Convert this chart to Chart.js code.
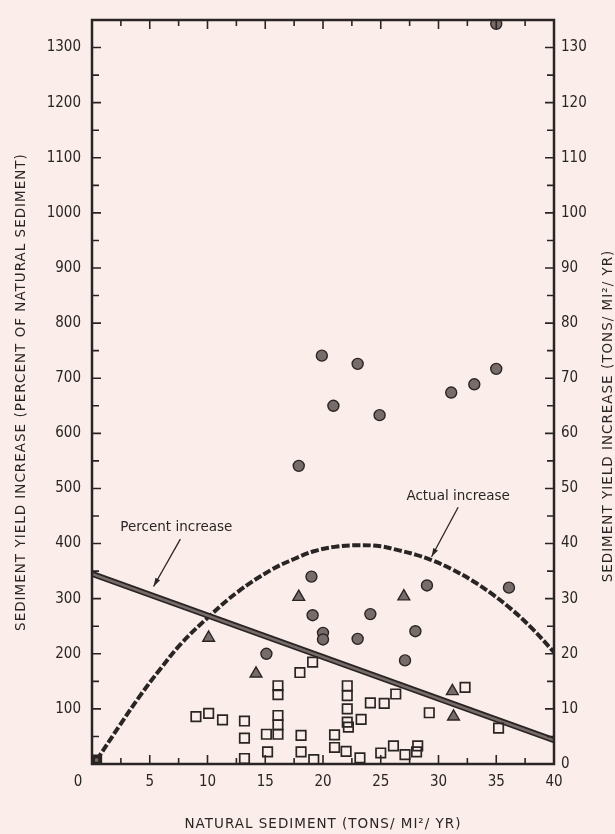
<!DOCTYPE html>
<html>
<head>
<meta charset="utf-8">
<script src="https://cdn.jsdelivr.net/npm/chart.js@4.4.0/dist/chart.umd.min.js"></script>
<style>
  html, body { margin: 0; padding: 0; background: #fbeeea; }
</style>
</head>
<body>
<canvas id="grafico" width="615" height="834"></canvas>
<script>
// filled circles (percent increase)
const circleX = [19.9, 23.0, 20.9, 24.9, 17.9, 31.1, 33.1, 35.0, 35.0,
  19.0, 29.0, 36.1, 19.1, 24.1, 20.0, 20.0, 23.0, 28.0, 27.1, 15.1];
const circleY = [741, 726, 650, 633, 541, 674, 689, 717, 1343,
  340, 324, 320, 270, 272, 238, 226, 227, 241, 188, 200];

// filled triangles
const triX = [17.9, 27.0, 10.1, 14.2, 31.2, 31.3];
const triY = [303, 304, 229, 164, 132, 86];

// open squares
const squareX = [9.0, 10.1, 11.3, 13.2, 13.2, 13.2, 15.1, 15.2, 16.1, 16.1, 16.1, 16.1, 16.1,
  18.0, 19.1, 18.1, 18.1, 19.2, 21.0, 21.0, 22.1, 22.1, 22.1, 22.1, 22.2, 23.3, 22.0, 23.2,
  24.1, 25.3, 26.3, 25.0, 26.1, 27.1, 28.2, 28.1, 29.2, 32.3, 35.2];
const squareY = [86, 92, 80, 78, 47, 10, 54, 22, 142, 126, 88, 71, 54,
  166, 185, 52, 22, 8, 53, 30, 142, 124, 100, 76, 67, 81, 23, 11,
  111, 110, 127, 20, 33, 17, 33, 22, 93, 139, 65];

// percent increase line (left axis)
const percentX = [0, 40];
const percentY = [345, 43];

// actual increase curve (right axis, tons/mi2/yr)
const actualX = [0.4, 2.4, 4.2, 5.9, 7.7, 10.1, 12.6, 15.5, 17.5, 19.2, 21, 23, 25, 26.5,
  28, 29.4, 31.1, 32.9, 34.6, 36.3, 38.1, 40];
const actualY = [0.7, 7.0, 12.5, 17.2, 21.8, 26.7, 31.2, 35.2, 37.2, 38.6, 39.4, 39.7, 39.5, 38.8,
  38.0, 37.0, 35.4, 33.3, 30.9, 28.1, 24.6, 20.3];

const xTicks = [0, 5, 10, 15, 20, 25, 30, 35, 40];
const leftTicks = [100, 200, 300, 400, 500, 600, 700, 800, 900, 1000, 1100, 1200, 1300];
const rightTicks = [0, 10, 20, 30, 40, 50, 60, 70, 80, 90, 100, 110, 120, 130];

const xTitle = 'NATURAL SEDIMENT (TONS/ MI\u00B2/ YR)';
const leftTitle = 'SEDIMENT YIELD INCREASE (PERCENT OF NATURAL SEDIMENT)';
const rightTitle = 'SEDIMENT YIELD INCREASE (TONS/ MI\u00B2/ YR)';

const toPoints = (xs, ys) => xs.map((x, i) => ({ x: x, y: ys[i] }));

const fundo = '#fbeeea';
const tinta = '#2a2525';
const cinza = '#786c6b';
const fonteNum = "'Liberation Sans Narrow', 'DejaVu Sans Condensed', 'Roboto Condensed', Roboto, sans-serif";
const fonteTxt = "'DejaVu Sans', 'Open Sans', sans-serif";

// arrows and labels, in data coords of x / left axis
const notas = [
  { text: 'Percent increase', tx: 7.3, ty: 429, from: [7.65, 408], to: [5.33, 322] },
  { text: 'Actual increase', tx: 31.7, ty: 486, from: [31.7, 466], to: [29.4, 376] }
];

const moldura = {
  id: 'moldura',
  beforeDraw(chart) {
    const c = chart.ctx;
    c.save();
    c.fillStyle = fundo;
    c.fillRect(0, 0, chart.width, chart.height);
    c.restore();
  },
  afterDraw(chart) {
    const c = chart.ctx;
    const a = chart.chartArea;
    const xs = chart.scales.x;
    const ys = chart.scales.y;
    c.save();
    c.strokeStyle = tinta;
    c.lineWidth = 2.5;
    c.strokeRect(a.left, a.top, a.right - a.left, a.bottom - a.top);

    // inward ticks
    c.lineWidth = 1.6;
    c.beginPath();
    for (let v = 50; v <= 1300; v += 50) {
      const y = ys.getPixelForValue(v);
      const len = v % 100 === 0 ? 9 : 7;
      c.moveTo(a.left, y); c.lineTo(a.left + len, y);
      c.moveTo(a.right, y); c.lineTo(a.right - len, y);
    }
    for (let v = 2.5; v < 40; v += 2.5) {
      const x = xs.getPixelForValue(v);
      const len = v % 5 === 0 ? 9 : 6;
      c.moveTo(x, a.bottom); c.lineTo(x, a.bottom - len);
      c.moveTo(x, a.top); c.lineTo(x, a.top + len);
    }
    c.stroke();

    // "0" of x axis sits left of the corner
    c.fillStyle = tinta;
    c.font = '15px ' + fonteNum;
    c.textAlign = 'center';
    c.textBaseline = 'middle';
    c.fillText('0', xs.getPixelForValue(0) - 14, a.bottom + 18);

    // annotations
    c.font = '13.5px ' + fonteTxt;
    c.lineWidth = 1.3;
    notas.forEach(n => {
      const tx = xs.getPixelForValue(n.tx), ty = ys.getPixelForValue(n.ty);
      c.fillText(n.text, tx, ty);
      const x1 = xs.getPixelForValue(n.from[0]), y1 = ys.getPixelForValue(n.from[1]);
      const x2 = xs.getPixelForValue(n.to[0]), y2 = ys.getPixelForValue(n.to[1]);
      c.beginPath(); c.moveTo(x1, y1); c.lineTo(x2, y2); c.stroke();
      const ang = Math.atan2(y2 - y1, x2 - x1);
      c.beginPath();
      c.moveTo(x2, y2);
      c.lineTo(x2 - 9 * Math.cos(ang - 0.3), y2 - 9 * Math.sin(ang - 0.3));
      c.lineTo(x2 - 9 * Math.cos(ang + 0.3), y2 - 9 * Math.sin(ang + 0.3));
      c.closePath();
      c.fill();
    });

    // axis titles, spaced like the original lettering
    c.font = '13.5px ' + fonteTxt;
    c.letterSpacing = '1px';
    c.fillText(xTitle, (a.left + a.right) / 2, 824);

    c.save();
    c.translate(21, (a.top + a.bottom) / 2);
    c.rotate(-Math.PI / 2);
    c.fillText(leftTitle, 0, 0);
    c.restore();

    // right title reads bottom to top too
    c.translate(608, (a.top + a.bottom) / 2 + 24);
    c.rotate(-Math.PI / 2);
    c.fillText(rightTitle, 0, 0);
    c.restore();
  }
};

const ctx = document.getElementById('grafico').getContext('2d');

new Chart(ctx, {
  type: 'scatter',
  data: {
    datasets: [
      {
        data: toPoints(circleX, circleY),
        pointStyle: 'circle', pointRadius: 5.5,
        backgroundColor: cinza, borderColor: tinta, borderWidth: 1.4
      },
      {
        data: toPoints(triX, triY),
        pointStyle: 'triangle', pointRadius: 6.8,
        backgroundColor: cinza, borderColor: tinta, borderWidth: 1.4
      },
      {
        data: toPoints(squareX, squareY),
        pointStyle: 'rect', pointRadius: 6.7,
        backgroundColor: 'rgba(0,0,0,0)', borderColor: tinta, borderWidth: 1.7
      },
      {
        data: toPoints(percentX, percentY),
        showLine: true, pointRadius: 0,
        borderColor: cinza, borderWidth: 2.5
      },
      {
        data: toPoints(percentX, percentY),
        showLine: true, pointRadius: 0,
        borderColor: tinta, borderWidth: 6
      },
      {
        data: toPoints(actualX, actualY),
        yAxisID: 'y2',
        showLine: true,
        tension: 0.4,
        pointRadius: actualX.map((x, i) => i === 0 ? 5 : 0),
        pointStyle: 'rect',
        backgroundColor: cinza,
        borderColor: tinta, borderWidth: 4, borderDash: [8, 2.5]
      }
    ]
  },
  options: {
    responsive: false,
    animation: false,
    layout: { padding: { top: 13, left: 0, right: 0, bottom: 0 } },
    plugins: {
      legend: { display: false },
      tooltip: { enabled: false }
    },
    scales: {
      x: {
        type: 'linear', min: 0, max: 40,
        afterFit: s => { s.height = 70; },
        afterBuildTicks: s => { s.ticks = xTicks.map(v => ({ value: v })); },
        grid: { display: false, drawTicks: false },
        border: { display: false },
        ticks: {
          color: tinta, padding: 9,
          font: { family: fonteNum, size: 15 },
          callback: v => v === 0 ? '' : String(v)
        }
      },
      y: {
        type: 'linear', position: 'left', min: 0, max: 1350,
        afterFit: s => { s.width = 92; },
        afterBuildTicks: s => { s.ticks = leftTicks.map(v => ({ value: v })); },
        grid: { display: false, drawTicks: false },
        border: { display: false },
        ticks: {
          color: tinta, padding: 11,
          font: { family: fonteNum, size: 15 },
          callback: v => String(v)
        }
      },
      y2: {
        type: 'linear', position: 'right', min: 0, max: 135,
        afterFit: s => { s.width = 61; },
        afterBuildTicks: s => { s.ticks = rightTicks.map(v => ({ value: v })); },
        grid: { display: false, drawTicks: false },
        border: { display: false },
        ticks: {
          color: tinta, padding: 7,
          font: { family: fonteNum, size: 15 },
          callback: v => String(v)
        }
      }
    }
  },
  plugins: [moldura]
});
</script>
</body>
</html>
